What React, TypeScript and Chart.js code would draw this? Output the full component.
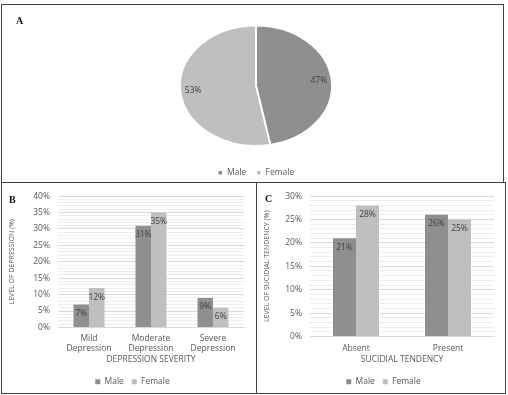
import React, { useEffect, useRef } from "react";
import { Chart, registerables } from "chart.js";

Chart.register(...registerables);

// ---------- data ----------
const genderLabels = ["Male", "Female"];
const genderShare = [47, 53];

const severityCategories = [
  ["Mild", "Depression"],
  ["Moderate", "Depression"],
  ["Severe", "Depression"],
];
const depressionMale = [7, 31, 9];
const depressionFemale = [12, 35, 6];
const depressionAxisMax = 40;

const tendencyCategories = ["Absent", "Present"];
const suicidalMale = [21, 26];
const suicidalFemale = [28, 25];
const suicidalAxisMax = 30;

const majorStep = 5;
const minorStep = 1;

// ---------- styles ----------
const FONT = "'Open Sans', 'Noto Sans', sans-serif";
const MALE = "#8f8f8f";
const FEMALE = "#bfbfbf";
const TEXT = "#595959";
const LABEL = "#404040";
const STRETCH = 1.267;

function PieChart() {
  const ref = useRef<HTMLCanvasElement | null>(null);
  useEffect(() => {
    if (!ref.current) return;
    const ellipsePlugin = {
      id: "ellipsePie",
      beforeDatasetsDraw(chart: any) {
        const arc = chart.getDatasetMeta(0).data[0];
        const ctx = chart.ctx;
        ctx.save();
        ctx.translate(arc.x, arc.y);
        ctx.scale(STRETCH, 1);
        ctx.translate(-arc.x, -arc.y);
      },
      afterDatasetsDraw(chart: any) {
        const ctx = chart.ctx;
        ctx.restore();
        const meta = chart.getDatasetMeta(0);
        ctx.save();
        ctx.font = `8.5px ${FONT}`;
        ctx.fillStyle = LABEL;
        ctx.textAlign = "center";
        ctx.textBaseline = "middle";
        meta.data.forEach((arc: any, i: number) => {
          const p = arc.getProps(["x", "y", "startAngle", "endAngle", "outerRadius"], true);
          const mid = (p.startAngle + p.endAngle) / 2;
          const r = p.outerRadius * 0.83;
          ctx.fillText(
            genderShare[i] + "%",
            p.x + Math.cos(mid) * r * STRETCH,
            p.y + Math.sin(mid) * r
          );
        });
        ctx.restore();
      },
    };
    const chart = new Chart(ref.current, {
      type: "pie",
      data: {
        labels: genderLabels,
        datasets: [
          {
            data: genderShare,
            backgroundColor: [MALE, FEMALE],
            borderColor: "#ffffff",
            borderWidth: 1.5,
            radius: 60,
          } as any,
        ],
      },
      options: {
        responsive: false,
        animation: false,
        devicePixelRatio: 1,
        events: [],
        layout: { padding: { top: 7, bottom: 0, left: 4, right: 0 } },
        plugins: {
          legend: {
            position: "bottom",
            labels: {
              boxWidth: 5,
              boxHeight: 5,
              padding: 10,
              color: TEXT,
              font: { size: 8.5, family: FONT },
            },
          },
          tooltip: { enabled: false },
        },
      },
      plugins: [ellipsePlugin],
    });
    return () => chart.destroy();
  }, []);
  return (
    <canvas
      ref={ref}
      width={498}
      height={181}
      style={{ position: "absolute", left: 5, top: 6, width: 498, height: 181 }}
    />
  );
}

type BarProps = {
  left: number;
  top: number;
  width: number;
  height: number;
  categories: any[];
  male: number[];
  female: number[];
  max: number;
  xTitle: string;
  yTitle: string;
  padLeft: number;
  yWidth: number;
  xHeight: number;
  yTitlePad: number;
  xTitlePad: number;
  xTickPad: number;
};

function BarChart(props: BarProps) {
  const ref = useRef<HTMLCanvasElement | null>(null);
  useEffect(() => {
    if (!ref.current) return;
    const labelPlugin = {
      id: "barLabels",
      afterDatasetsDraw(chart: any) {
        const ctx = chart.ctx;
        ctx.save();
        ctx.font = `8.5px ${FONT}`;
        ctx.fillStyle = LABEL;
        ctx.textAlign = "center";
        ctx.textBaseline = "middle";
        chart.data.datasets.forEach((ds: any, i: number) => {
          const meta = chart.getDatasetMeta(i);
          meta.data.forEach((bar: any, j: number) => {
            ctx.fillText(ds.data[j] + "%", bar.x, bar.y + 9);
          });
        });
        ctx.restore();
      },
    };
    const chart = new Chart(ref.current, {
      type: "bar",
      data: {
        labels: props.categories,
        datasets: [
          { label: "Male", data: props.male, backgroundColor: MALE, borderWidth: 0 },
          { label: "Female", data: props.female, backgroundColor: FEMALE, borderWidth: 0 },
        ],
      },
      options: {
        responsive: false,
        animation: false,
        devicePixelRatio: 1,
        events: [],
        datasets: { bar: { categoryPercentage: 0.5, barPercentage: 1.0 } },
        layout: { padding: { top: 11, right: 11, left: props.padLeft, bottom: 0 } },
        plugins: {
          legend: {
            position: "bottom",
            labels: {
              boxWidth: 5,
              boxHeight: 5,
              padding: 8,
              color: TEXT,
              font: { size: 8.5, family: FONT },
            },
          },
          tooltip: { enabled: false },
        },
        scales: {
          x: {
            grid: { display: false, drawTicks: false },
            border: { color: "#d9d9d9" },
            ticks: {
              color: TEXT,
              font: { size: 8.5, family: FONT },
              padding: props.xTickPad,
              maxRotation: 0,
              autoSkip: false,
            },
            title: {
              display: true,
              text: props.xTitle,
              color: TEXT,
              font: { size: 8.5, family: FONT },
              padding: { top: 0, bottom: props.xTitlePad },
            },
            afterFit: (s: any) => {
              s.height = props.xHeight;
            },
          },
          y: {
            min: 0,
            max: props.max,
            border: { display: false },
            grid: {
              drawTicks: false,
              color: (c: any) =>
                c.tick && c.tick.value % majorStep === 0 ? "#d9d9d9" : "#eeeeee",
            },
            ticks: {
              stepSize: minorStep,
              autoSkip: false,
              padding: 8,
              color: TEXT,
              font: { size: 8.5, family: FONT },
              callback: (v: any) => (Number(v) % majorStep === 0 ? v + "%" : ""),
            },
            title: {
              display: true,
              text: props.yTitle,
              color: TEXT,
              font: { size: 7, family: FONT },
              padding: { top: props.yTitlePad, bottom: 0 },
            },
            afterFit: (s: any) => {
              s.width = props.yWidth;
            },
          },
        },
      } as any,
      plugins: [labelPlugin],
    });
    return () => chart.destroy();
  }, []);
  return (
    <canvas
      ref={ref}
      width={props.width}
      height={props.height}
      style={{
        position: "absolute",
        left: props.left,
        top: props.top,
        width: props.width,
        height: props.height,
      }}
    />
  );
}

const letterStyle: React.CSSProperties = {
  position: "absolute",
  fontFamily: "'Liberation Serif', 'Times New Roman', serif",
  fontWeight: "bold",
  fontSize: 10,
  lineHeight: "10px",
  color: "#111",
  zIndex: 3,
};

const boxStyle = (l: number, t: number, w: number, h: number): React.CSSProperties => ({
  position: "absolute",
  left: l,
  top: t,
  width: w,
  height: h,
  border: "1px solid #404040",
  boxSizing: "border-box",
  pointerEvents: "none",
  zIndex: 2,
});

export default function App() {
  return (
    <div
      style={{
        position: "absolute",
        left: 0,
        top: 0,
        width: 508,
        height: 395,
        overflow: "hidden",
        background: "#ffffff",
      }}
    >
      <PieChart />
      <BarChart
        left={3}
        top={183}
        width={252}
        height={213}
        categories={severityCategories}
        male={depressionMale}
        female={depressionFemale}
        max={depressionAxisMax}
        xTitle="DEPRESSION SEVERITY"
        yTitle="LEVEL OF DEPRESSION (%)"
        padLeft={18}
        yWidth={37}
        xHeight={42}
        yTitlePad={-13}
        xTitlePad={5}
        xTickPad={6}
      />
      <BarChart
        left={257}
        top={183}
        width={248}
        height={213}
        categories={tendencyCategories}
        male={suicidalMale}
        female={suicidalFemale}
        max={suicidalAxisMax}
        xTitle="SUCIDIAL TENDENCY"
        yTitle="LEVEL OF SUCIDIAL TENDENCY (%)"
        padLeft={16}
        yWidth={37}
        xHeight={33}
        yTitlePad={-10}
        xTitlePad={5}
        xTickPad={7}
      />
      <div style={boxStyle(1, 4, 503, 179)} />
      <div style={boxStyle(1, 182, 256, 212)} />
      <div style={boxStyle(256, 182, 250, 212)} />
      <div style={{ ...letterStyle, left: 16, top: 16 }}>A</div>
      <div style={{ ...letterStyle, left: 9, top: 195 }}>B</div>
      <div style={{ ...letterStyle, left: 265, top: 194 }}>C</div>
    </div>
  );
}
